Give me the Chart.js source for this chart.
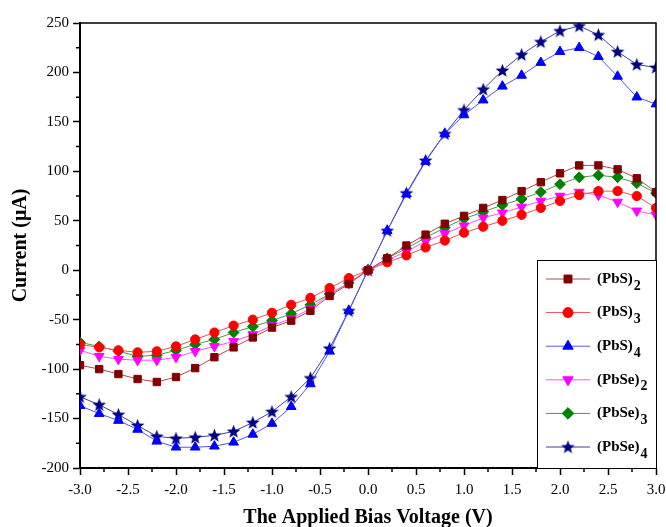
<!DOCTYPE html>
<html>
<head>
<meta charset="utf-8">
<script src="https://cdn.jsdelivr.net/npm/chart.js@4.4.1/dist/chart.umd.min.js"></script>
<style>
body { margin: 0; background: #fff; }
</style>
</head>
<body>
<canvas id="chart" width="666" height="527"></canvas>
<script>
// applied bias voltage (V)
var voltage = [-3.0, -2.8, -2.6, -2.4, -2.2, -2.0, -1.8, -1.6, -1.4, -1.2, -1.0, -0.8, -0.6, -0.4, -0.2, 0.0,
	0.2, 0.4, 0.6, 0.8, 1.0, 1.2, 1.4, 1.6, 1.8, 2.0, 2.2, 2.4, 2.6, 2.8, 3.0];

// current (uA) per cluster
var pbs2 = [-96, -100, -105, -110, -113, -108, -99, -88, -78, -68, -58, -51, -41, -26, -14, 0,
	12, 25, 36, 47, 55, 63, 71, 80, 89, 98, 106, 106, 102, 93, 79];
var pbs3 = [-75, -78, -81, -83, -82, -77, -70, -63, -56, -50, -43, -35, -28, -18, -8, 0,
	8, 15, 23, 30, 38, 44, 50, 56, 63, 70, 76, 80, 80, 75, 63];
var pbs4 = [-137, -145, -152, -161, -173, -179, -179, -178, -174, -166, -155, -138, -115, -82, -41, 0,
	40, 77, 110, 138, 157, 172, 186, 197, 210, 221, 225, 216, 196, 175, 168];
var pbse2 = [-81, -87, -90, -91, -91, -88, -82, -77, -72, -65, -56, -49, -39, -24, -13, 0,
	10, 19, 29, 37, 45, 53, 58, 64, 70, 75, 79, 76, 69, 60, 56];
var pbse3 = [-73, -77, -82, -87, -86, -81, -75, -70, -63, -57, -51, -44, -35, -24, -13, 0,
	12, 22, 33, 43, 52, 59, 66, 72, 79, 87, 94, 96, 94, 88, 78];
var pbse4 = [-128, -136, -146, -157, -168, -170, -169, -167, -163, -154, -143, -128, -109, -79, -41, 0,
	40, 78, 111, 138, 162, 183, 202, 218, 231, 242, 247, 238, 221, 208, 205];

var seriesNames = ['(PbS)', '(PbS)', '(PbS)', '(PbSe)', '(PbSe)', '(PbSe)'];
var seriesSubs = ['2', '3', '4', '2', '3', '4'];

var serif = "'Liberation Serif', 'Times New Roman', serif";
Chart.defaults.font.family = serif;
Chart.defaults.color = '#000';

function toPoints(arr) {
	return arr.map(function (v, i) { return { x: voltage[i], y: v }; });
}

// filled five point star marker
function makeStar(color) {
	var c = document.createElement('canvas');
	c.width = 15; c.height = 15;
	var g = c.getContext('2d');
	g.fillStyle = color;
	g.beginPath();
	for (var i = 0; i < 10; i++) {
		var r = i % 2 == 0 ? 7.2 : 3;
		var a = -Math.PI / 2 + i * Math.PI / 5;
		var px = 7.5 + r * Math.cos(a), py = 8 + r * Math.sin(a);
		if (i == 0) g.moveTo(px, py); else g.lineTo(px, py);
	}
	g.closePath();
	g.fill();
	return c;
}

function ds(label, data, line, mark, style, radius, rot) {
	return {
		label: label,
		data: toPoints(data),
		borderColor: line,
		borderWidth: 1,
		backgroundColor: mark,
		pointBackgroundColor: mark,
		pointBorderColor: mark,
		pointBorderWidth: 1,
		pointStyle: style,
		pointRadius: radius,
		pointRotation: rot || 0,
		tension: 0
	};
}

var datasets = [
	ds('(PbS)2', pbs2, '#b04848', '#800000', 'rect', 5.2),
	ds('(PbS)3', pbs3, '#f05050', '#ff0000', 'circle', 4.6),
	ds('(PbS)4', pbs4, '#5050ff', '#0000ff', 'triangle', 5.6),
	ds('(PbSe)2', pbse2, '#ff50ff', '#ff00ff', 'triangle', 5.6, 180),
	ds('(PbSe)3', pbse3, '#40a040', '#008000', 'rectRot', 5.4),
	ds('(PbSe)4', pbse4, '#4040a0', '#000080', makeStar('#000080'), 6)
];

// top/right frame, minor ticks and boxed legend
var decorations = {
	id: 'decorations',
	afterDraw: function (chart) {
		var ctx = chart.ctx, a = chart.chartArea;
		var xs = chart.scales.x, ys = chart.scales.y;
		ctx.save();
		ctx.strokeStyle = '#000';
		ctx.lineWidth = 1.5;
		ctx.beginPath();
		ctx.moveTo(a.left, a.top); ctx.lineTo(a.right, a.top); ctx.lineTo(a.right, a.bottom);
		ctx.stroke();

		ctx.beginPath();
		for (var v = -2.75; v < 3; v += 0.5) {
			var px = xs.getPixelForValue(v);
			ctx.moveTo(px, a.bottom); ctx.lineTo(px, a.bottom + 4);
		}
		for (var w = -175; w < 250; w += 50) {
			var py = ys.getPixelForValue(w);
			ctx.moveTo(a.left, py); ctx.lineTo(a.left - 4, py);
		}
		ctx.stroke();

		// legend
		var lx = 537, ly = 260, lw = a.right - lx, lh = a.bottom - ly;
		ctx.fillStyle = '#fff';
		ctx.fillRect(lx, ly, lw, lh);
		ctx.lineWidth = 1;
		ctx.strokeStyle = '#000';
		ctx.strokeRect(lx + 0.5, ly + 0.5, lw, lh);
		chart.data.datasets.forEach(function (d, i) {
			var yy = 279 + i * 33.6;
			ctx.strokeStyle = d.borderColor;
			ctx.lineWidth = 1;
			ctx.beginPath();
			ctx.moveTo(546, yy); ctx.lineTo(590, yy);
			ctx.stroke();
			ctx.fillStyle = d.pointBackgroundColor;
			ctx.strokeStyle = d.pointBorderColor;
			Chart.helpers.drawPoint(ctx, {
				pointStyle: d.pointStyle, radius: d.pointRadius + 0.4,
				rotation: d.pointRotation, borderWidth: 1
			}, 568, yy);
			ctx.fillStyle = '#000';
			ctx.textBaseline = 'middle';
			ctx.textAlign = 'left';
			ctx.font = 'bold 15px ' + serif;
			ctx.fillText(seriesNames[i], 597, yy);
			var tw = ctx.measureText(seriesNames[i]).width;
			ctx.font = 'bold 14px ' + serif;
			ctx.fillText(seriesSubs[i], 598 + tw, yy + 7);
		});
		ctx.restore();
	}
};

new Chart(document.getElementById('chart'), {
	type: 'line',
	data: { datasets: datasets },
	plugins: [decorations],
	options: {
		responsive: false,
		animation: false,
		layout: { padding: { left: 0, right: 10, top: 23, bottom: 0 } },
		plugins: { legend: { display: false }, tooltip: { enabled: false } },
		scales: {
			x: {
				type: 'linear', min: -3, max: 3,
				ticks: {
					stepSize: 0.5, padding: 6,
					font: { size: 15 }, color: '#000',
					callback: function (v) { return v.toFixed(1); }
				},
				grid: { drawOnChartArea: false, drawTicks: true, tickLength: 7, tickWidth: 1.5, tickColor: '#000' },
				border: { color: '#000', width: 2 },
				title: { display: true, text: 'The Applied Bias Voltage (V)', font: { size: 20, weight: 'bold' }, color: '#000', padding: { top: 0, bottom: -3 } },
				afterFit: function (s) { s.height = 59; s.paddingLeft = 0; s.paddingRight = 0; }
			},
			y: {
				type: 'linear', min: -200, max: 250,
				ticks: { stepSize: 50, padding: 4, font: { size: 15 }, color: '#000' },
				grid: { drawOnChartArea: false, drawTicks: true, tickLength: 7, tickWidth: 1.5, tickColor: '#000' },
				border: { color: '#000', width: 2 },
				title: { display: true, text: 'Current (\u03bcA)', font: { size: 20, weight: 'bold' }, color: '#000', padding: { top: 9, bottom: 0 } },
				afterFit: function (s) { s.width = 80; s.paddingTop = 0; s.paddingBottom = 0; }
			}
		}
	}
});
</script>
</body>
</html>
